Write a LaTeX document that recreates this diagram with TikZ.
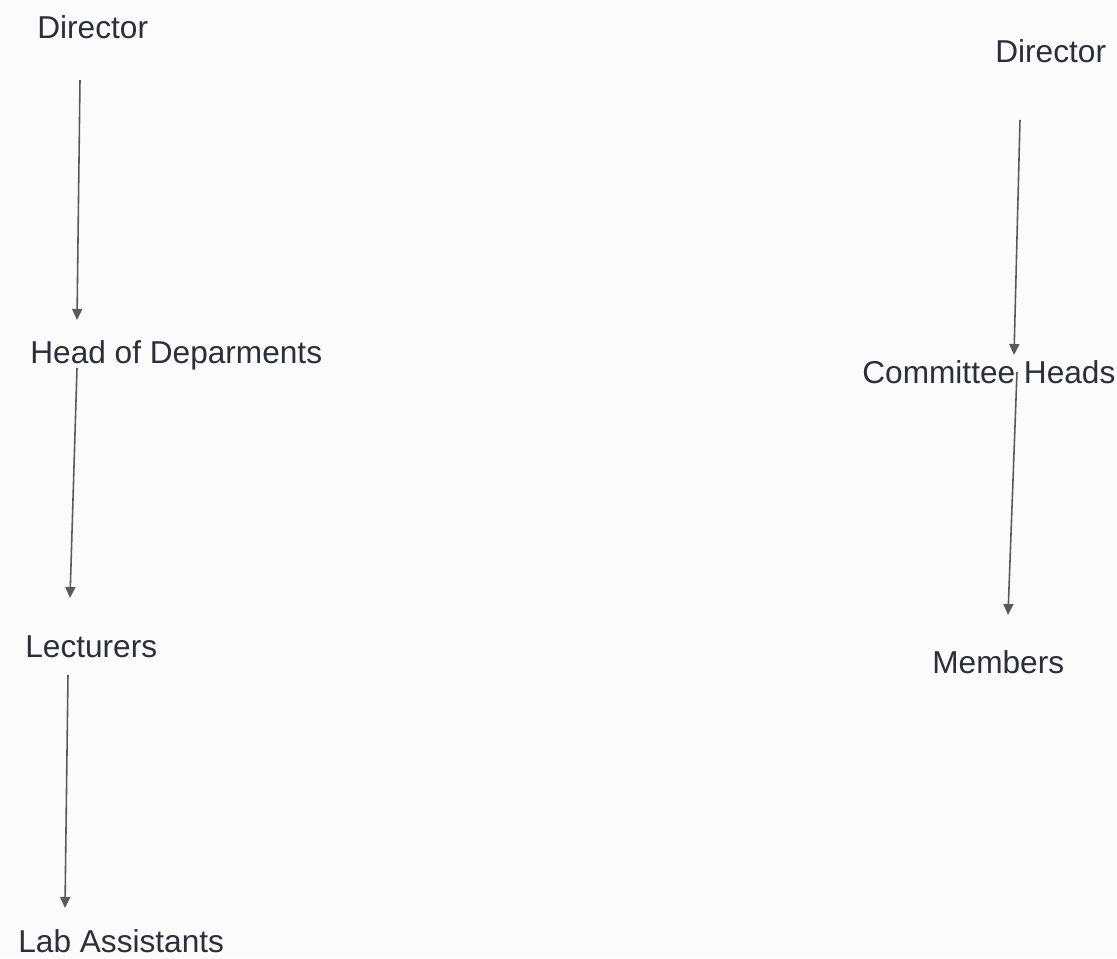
\documentclass[tikz,border=0pt]{standalone}
\usepackage{fontspec}
\setmainfont{Liberation Sans}
\usetikzlibrary{arrows.meta,calc}
\definecolor{txt}{RGB}{45,45,60}
\definecolor{ln}{RGB}{90,90,90}
\definecolor{bg}{RGB}{251,251,251}
\begin{document}
\begin{tikzpicture}[x=0.02cm,y=-0.02cm,
  lbl/.style={anchor=base west,inner sep=0pt,text=txt,font=\fontsize{18}{22}\selectfont},
  conn/.style={draw=ln,line width=0.9pt,-{Triangle[length=2.2mm,width=2mm]}}]
\fill[bg] (0,0) rectangle (1117,958);
\useasboundingbox (0,0) rectangle (1117,958);
% left hierarchy
\node[lbl] (d1) at (37,38) {Director};
\node[lbl] (h1) at (30,363) {Head of Deparments};
\node[lbl] (l1) at (25,657) {Lecturers};
\node[lbl] (la) at (18,952) {Lab Assistants};
% right hierarchy
\node[lbl] (d2) at (995,62) {Director};
\node[lbl] (c2) at (862,383) {Committee Heads};
\node[lbl] (m2) at (932,673) {Members};
% connectors
\draw[conn] ($(d1.base west)+(43,42)$) -- ($(h1.base west)+(47,-43)$);
\draw[conn] ($(h1.base west)+(47,5)$) -- ($(l1.base west)+(45,-59)$);
\draw[conn] ($(l1.base west)+(43,18)$) -- ($(la.base west)+(47,-44)$);
\draw[conn] ($(d2.base west)+(25,58)$) -- ($(c2.base west)+(152,-28)$);
\draw[conn] ($(c2.base west)+(155,-11)$) -- ($(m2.base west)+(76,-58)$);
\end{tikzpicture}
\end{document}
